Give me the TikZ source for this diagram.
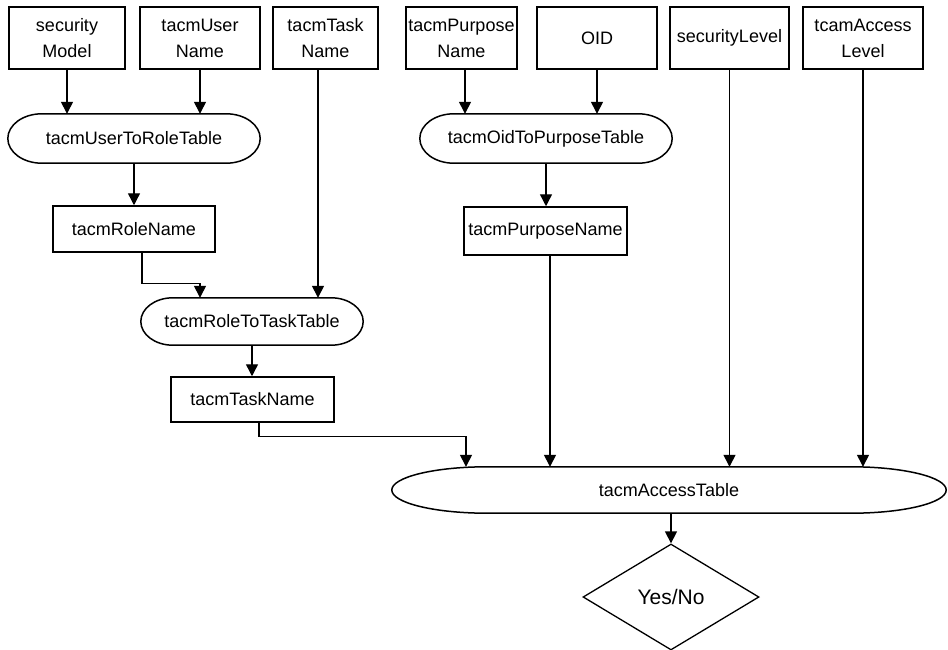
\documentclass[tikz,border=0pt]{standalone}
\usepackage{fontspec}
\setmainfont{Liberation Sans}
\usetikzlibrary{arrows.meta,calc,shapes.geometric}

% outline of a pill: flat top and bottom, elliptical ends of x radius #2
\newcommand\pilloutline[2]{%
  \draw[outline] let \p1=(#1.north west), \p2=(#1.south east), \n1={(\y1-\y2)/2} in
    ([xshift=#2pt]#1.north west) -- ([xshift=-#2pt]#1.north east)
    arc[start angle=90, end angle=-90, x radius=#2pt, y radius=\n1]
    -- ([xshift=#2pt]#1.south west)
    arc[start angle=270, end angle=90, x radius=#2pt, y radius=\n1] -- cycle;}

\begin{document}
\begin{tikzpicture}[x=1pt,y=1pt,
  lbl/.style={font=\fontsize{18}{26}\selectfont, align=center, inner sep=0pt},
  box/.style={lbl, draw, rectangle, line width=1.5pt},
  pill/.style={lbl, rectangle},
  outline/.style={line width=1.5pt},
  conn/.style={line width=1.4pt, -{Triangle[length=12pt,width=12pt]}},
  decision/.style={diamond, draw, line width=1.3pt, inner sep=0pt,
    font=\fontsize{21}{25}\selectfont}]
\useasboundingbox (0,0) rectangle (948,-650);

% input fields along the top
\node[box, minimum width=116pt, minimum height=62pt] (secmodel) at (67,-38) {security\\Model};
\node[box, minimum width=120pt, minimum height=62pt] (username) at (200,-38) {tacmUser\\Name};
\node[box, minimum width=105pt, minimum height=62pt] (taskname) at (325.5,-38) {tacmTask\\Name};
\node[box, minimum width=111pt, minimum height=62pt] (purpname) at (461.5,-38) {tacmPurpose\\Name};
\node[box, minimum width=120pt, minimum height=62pt] (oid) at (597,-38) {OID};
\node[box, minimum width=119pt, minimum height=62pt] (seclevel) at (729.5,-38) {securityLevel};
\node[box, minimum width=120pt, minimum height=62pt] (acclevel) at (863,-38) {tcamAccess\\Level};

% lookup tables
\node[pill, minimum width=252pt, minimum height=49pt] (usertorole) at (134,-138.5) {tacmUserToRoleTable};
\node[pill, minimum width=252pt, minimum height=49pt] (oidtopurp) at (546,-138.5) {tacmOidToPurposeTable};
\node[pill, minimum width=222pt, minimum height=47pt] (roletotask) at (252,-321.5) {tacmRoleToTaskTable};
\node[pill, minimum width=554pt, minimum height=46pt] (access) at (669,-490) {tacmAccessTable};
\pilloutline{usertorole}{34}
\pilloutline{oidtopurp}{34}
\pilloutline{roletotask}{32}
\pilloutline{access}{95}

% intermediate results
\node[box, minimum width=162pt, minimum height=46pt] (rolename) at (134,-229) {tacmRoleName};
\node[box, minimum width=163pt, minimum height=48pt] (purpresult) at (545.5,-231) {tacmPurposeName};
\node[box, minimum width=163pt, minimum height=45pt] (taskresult) at (252.5,-399.5) {tacmTaskName};

% decision
\node[decision, minimum width=176pt, minimum height=106pt] (yesno) at (671,-597) {Yes/No};

% exit points of the connectors that leave off-centre
\coordinate (taskout) at ([xshift=-7.5pt]taskname.south);
\coordinate (purpout) at ([xshift=3.5pt]purpname.south);
\coordinate (roleout) at ([xshift=8pt]rolename.south);
\coordinate (taskresout) at ([xshift=6.5pt]taskresult.south);
\coordinate (purpresout) at ([xshift=4.5pt]purpresult.south);

% connectors
\draw[conn] (secmodel.south) -- (secmodel.south |- usertorole.north);
\draw[conn] (username.south) -- (username.south |- usertorole.north);
\draw[conn] (usertorole.south) -- (usertorole.south |- rolename.north);
\draw[conn] (roleout) -- ++(0,-31) -| ([xshift=-52pt]roletotask.north);
\draw[conn] (taskout) -- (taskout |- roletotask.north);
\draw[conn] (roletotask.south) -- (roletotask.south |- taskresult.north);
\draw[conn] (taskresout) -- ++(0,-14) -| ([xshift=-203pt]access.north);

\draw[conn] (purpout) -- (purpout |- oidtopurp.north);
\draw[conn] (oid.south) -- (oid.south |- oidtopurp.north);
\draw[conn] (oidtopurp.south) -- (oidtopurp.south |- purpresult.north);
\draw[conn] (purpresout) -- (purpresout |- access.north);
\draw[conn] (seclevel.south) -- (seclevel.south |- access.north);
\draw[conn] (acclevel.south) -- (acclevel.south |- access.north);
\draw[conn] (access.south -| yesno.north) -- (yesno.north);
\end{tikzpicture}
\end{document}
